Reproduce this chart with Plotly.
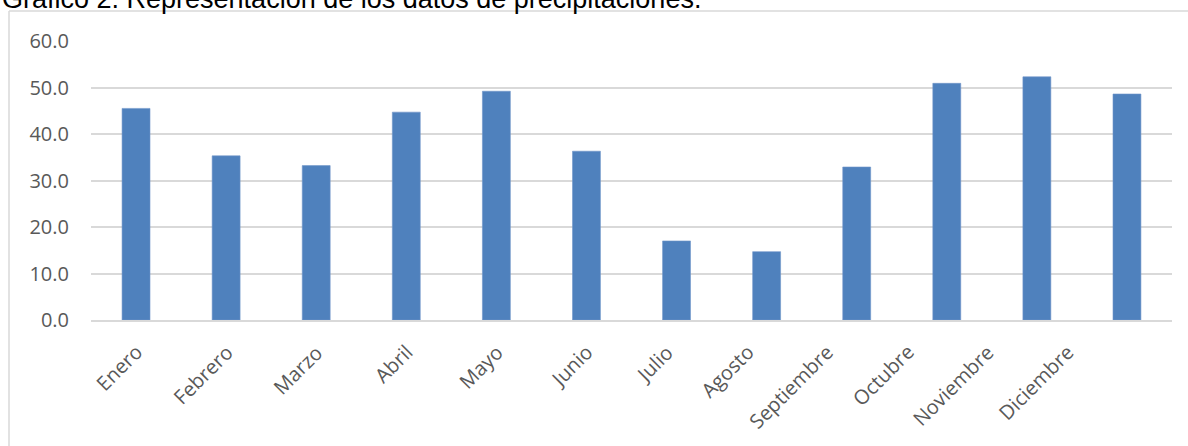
import plotly.graph_objects as go

months = ["Enero", "Febrero", "Marzo", "Abril", "Mayo", "Junio", "Julio",
          "Agosto", "Septiembre", "Octubre", "Noviembre", "Diciembre"]
precip = [45.5, 35.3, 33.2, 44.7, 49.2, 36.3, 17.0, 14.7, 32.9, 50.9, 52.3, 48.6]
y_ticks = [0, 10, 20, 30, 40, 50, 60]
y_tick_labels = [f"{v:.1f}" for v in y_ticks]
title_text = "Gráfico 2. Representación de los datos de precipitaciones."

W, H = 1188, 446
ML, MR, MT, MB = 91, 16, 41, 126
PW, PH = W - ML - MR, H - MT - MB

def px_x(x):
    return (x - ML) / PW

def px_y(y):
    return (H - MB - y) / PH

fig = go.Figure(go.Bar(
    x=months, y=precip,
    marker=dict(color="#4f81bd", line=dict(color="#7196c9", width=0.6)),
))

grid = "#d9d9d9"
tick_font = dict(family="Open Sans", size=20, color="#595959")

# category labels, drawn as rotated annotations at each category position
# (the reference's labels drift left after "Junio")
label_annotations = []
for i, m in enumerate(months):
    drift = 0 if i < 6 else -10 * (i - 5)
    label_annotations.append(dict(
        text=m, xref="x", yref="paper", x=m, y=px_y(336),
        xanchor="right", yanchor="top", textangle=-45, showarrow=False,
        xshift=15 + drift, font=tick_font,
    ))

fig.update_layout(
    width=W, height=H,
    margin=dict(l=ML, r=MR, t=MT, b=MB, pad=0),
    paper_bgcolor="white", plot_bgcolor="white",
    bargap=0.69,
    showlegend=False,
    xaxis=dict(showgrid=False, showline=True, linecolor=grid, linewidth=1.5,
               showticklabels=False, ticks="", range=[-0.5, len(months) - 0.5],
               autorange=False),
    yaxis=dict(range=[0, 60], tickvals=y_ticks, ticktext=y_tick_labels,
               showgrid=True, gridcolor=grid, gridwidth=1.5, zeroline=False,
               showline=False, tickfont=tick_font, ticklabelstandoff=21),
    shapes=[
        dict(type="line", xref="paper", yref="paper",
             x0=px_x(9), x1=px_x(9), y0=px_y(11), y1=px_y(460),
             line=dict(color=grid, width=1.5)),
        dict(type="line", xref="paper", yref="paper",
             x0=px_x(9), x1=px_x(1200), y0=px_y(11), y1=px_y(11),
             line=dict(color=grid, width=1.5)),
    ],
    annotations=[
        dict(text=title_text, xref="paper", yref="paper",
             x=px_x(0), y=px_y(16), xanchor="left", yanchor="bottom",
             showarrow=False, font=dict(family="Liberation Sans", size=27, color="black")),
    ] + label_annotations,
)

fig.write_html("out.html")
